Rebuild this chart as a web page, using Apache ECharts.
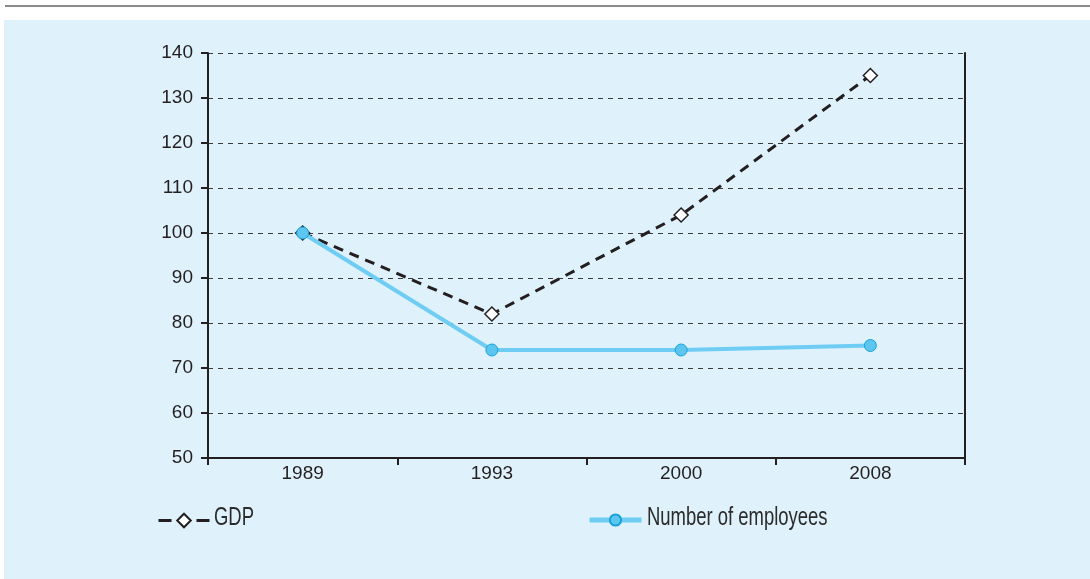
<!DOCTYPE html>
<html>
<head>
<meta charset="utf-8">
<script src="https://cdn.jsdelivr.net/npm/echarts@6/dist/echarts.min.js"></script>
<style>
  html, body { margin: 0; padding: 0; background: #fff; }
  #chart { width: 1090px; height: 579px; }
</style>
</head>
<body>
<div id="chart"></div>
<script>
// data
const years = ['1989', '1993', '2000', '2008']
const gdp = [100, 82, 104, 135]
const employees = [100, 74, 74, 75]
const seriesNames = ['GDP', 'Number of employees']
const yMin = 50
const yMax = 140
const yStep = 10

const ink = '#231f20'
const blueLine = '#6fcdf3'
const blueDot = '#5cc6ef'
const blueEdge = '#1aa0da'
const tickFont = { fontFamily: 'Liberation Sans, Arial, sans-serif', fontSize: 19, color: ink }
// the legend uses a condensed face; squeeze a regular one horizontally
const legendTextStyle = {
  text: '',
  font: '26px "Liberation Sans", Arial, sans-serif',
  fill: '#2b2b2b',
  verticalAlign: 'middle'
}

const chart = echarts.init(document.getElementById('chart'))

const option = {
  animation: false,
  backgroundColor: '#ffffff',
  graphic: [
    // top rule
    { type: 'rect', shape: { x: 5, y: 5, width: 1085, height: 2 }, style: { fill: '#8a8a8a' }, z: -10 },
    // panel background
    { type: 'rect', shape: { x: 4, y: 20, width: 1086, height: 559 }, style: { fill: '#dff2fc' }, z: -10 },
    // legend labels
    { type: 'text', x: 214, y: 518, scaleX: 0.71, style: Object.assign({}, legendTextStyle, { text: seriesNames[0] }) },
    { type: 'text', x: 647, y: 518, scaleX: 0.71, style: Object.assign({}, legendTextStyle, { text: seriesNames[1] }) }
  ],
  grid: { left: 208, right: 125, top: 53, bottom: 121 },
  legend: [
    {
      data: [seriesNames[0]],
      left: 152, top: 507,
      itemWidth: 51, itemHeight: 17,
      formatter: () => '',
      lineStyle: { width: 3, type: [13, 25] }
    },
    {
      data: [seriesNames[1]],
      left: 582, top: 508,
      itemWidth: 52, itemHeight: 14,
      formatter: () => '',
      lineStyle: { width: 5 }
    }
  ],
  xAxis: {
    type: 'category',
    data: years,
    boundaryGap: true,
    axisLine: { lineStyle: { color: ink, width: 2 } },
    axisTick: { show: true, length: 7, lineStyle: { color: ink, width: 2 } },
    axisLabel: Object.assign({ margin: 6 }, tickFont)
  },
  yAxis: [
    {
      type: 'value',
      min: yMin, max: yMax, interval: yStep,
      axisLine: { show: true, lineStyle: { color: ink, width: 2 } },
      axisTick: { show: true, length: 7, lineStyle: { color: ink, width: 2 } },
      axisLabel: Object.assign({ margin: 15 }, tickFont),
      splitLine: { show: true, lineStyle: { color: '#3a3a3a', width: 1, type: [5, 5] } }
    },
    {
      type: 'value',
      position: 'right',
      min: yMin, max: yMax, interval: yStep,
      axisLine: { show: true, lineStyle: { color: ink, width: 2 } },
      axisTick: { show: false },
      axisLabel: { show: false },
      splitLine: { show: false }
    }
  ],
  series: [
    {
      name: seriesNames[0],
      type: 'line',
      data: gdp,
      symbol: 'diamond',
      symbolSize: 14,
      lineStyle: { color: ink, width: 3, type: [10, 7] },
      itemStyle: { color: '#ffffff', borderColor: ink, borderWidth: 1.5 },
      z: 2
    },
    {
      name: seriesNames[1],
      type: 'line',
      data: employees,
      symbol: 'circle',
      symbolSize: 12,
      lineStyle: { color: blueLine, width: 4 },
      itemStyle: { color: blueDot, borderColor: blueEdge, borderWidth: 1 },
      z: 3
    }
  ]
}

chart.setOption(option)
</script>
</body>
</html>
